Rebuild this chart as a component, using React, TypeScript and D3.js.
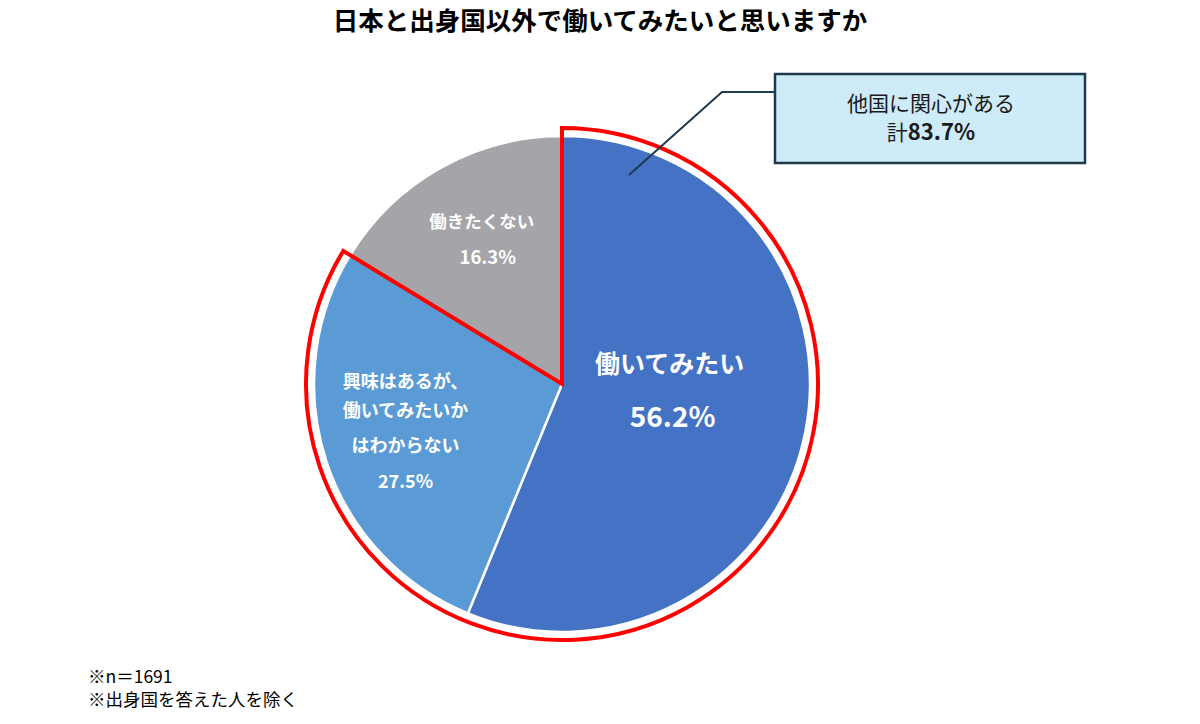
import React from "react";
import * as d3 from "d3";

const categories = ["働いてみたい", "興味はあるが、働いてみたいかはわからない", "働きたくない"];
const values = [56.2, 27.5, 16.3];
const colors = ["#4472C4", "#5B9BD5", "#A5A4A8"];
const title = "日本と出身国以外で働いてみたいと思いますか";
const calloutLines = ["他国に関心がある", "計", "83.7%"];
const notes = ["※n＝1691", "※出身国を答えた人を除く"];

const FONT = "'Noto Sans CJK JP', 'Noto Sans', sans-serif";

export default function App() {
  const W = 1200, H = 724;
  const cx = 562, cy = 384, r = 248;
  const pie = d3.pie<number>().sort(null).value((d) => d);
  const arcs = pie(values);
  const arcGen = d3.arc<d3.PieArcDatum<number>>().innerRadius(0).outerRadius(r);

  const interestEnd = arcs[1].endAngle;
  const R2 = r + 8;
  const redArc = d3.arc()({ innerRadius: 0, outerRadius: R2, startAngle: 0, endAngle: interestEnd } as any) as string;

  const labelPos = (i: number, k: number) => {
    const a = arcs[i];
    return d3.arc<d3.PieArcDatum<number>>().innerRadius(r * k).outerRadius(r * k).centroid(a);
  };
  const p0 = labelPos(0, 0.5);
  const p1 = labelPos(1, 0.66);
  const p2 = labelPos(2, 0.66);

  const lbl = { fill: "#fff", fontWeight: 700, fontFamily: FONT, textAnchor: "middle" as const };

  return (
    <svg width={W} height={H} style={{ position: "absolute", left: 0, top: 0, background: "#fff" }}>
      <text x={600} y={30} textAnchor="middle" fontFamily={FONT} fontWeight={700} fontSize={25.5} fill="#000">{title}</text>
      <g transform={`translate(${cx},${cy})`}>
        {arcs.map((a, i) => (
          <path key={i} d={arcGen(a) as string} fill={colors[i]} stroke="#fff" strokeWidth={2.5} />
        ))}
        <path d={redArc} fill="none" stroke="#FF0000" strokeWidth={4} strokeLinejoin="miter" />
        <text x={p0[0] - 14} y={p0[1] - 35} {...lbl} fontSize={25}>{categories[0]}</text>
        <text x={p0[0] - 11} y={p0[1] + 19} {...lbl} fontSize={28}>{values[0].toFixed(1)}%</text>
        <g fontSize={18}>
          <text x={p1[0] - 1} y={p1[1] - 47} {...lbl}>興味はあるが、</text>
          <text x={p1[0] - 1} y={p1[1] - 18} {...lbl}>働いてみたいか</text>
          <text x={p1[0] - 1} y={p1[1] + 17} {...lbl}>はわからない</text>
          <text x={p1[0] - 1} y={p1[1] + 53} {...lbl}>{values[1].toFixed(1)}%</text>
        </g>
        <g fontSize={17.5}>
          <text x={p2[0] + 0} y={p2[1] - 13} {...lbl}>{categories[2]}</text>
          <text x={p2[0] + 6} y={p2[1] + 23} {...lbl} fontSize={18.5}>{values[2].toFixed(1)}%</text>
        </g>
      </g>
      <polyline points="629,175 722,92 775,92" fill="none" stroke="#1F3A4D" strokeWidth={2} />
      <rect x={775} y={74} width={310} height={89} fill="#CDEBF9" stroke="#1F3A4D" strokeWidth={2.5} />
      <text x={931} y={111} textAnchor="middle" fontFamily={FONT} fontSize={21} fill="#1a1a1a">{calloutLines[0]}</text>
      <text x={931} y={140} textAnchor="middle" fontFamily={FONT} fontSize={21} fill="#1a1a1a">
        {calloutLines[1]}<tspan fontWeight={700} fontSize={22}>{calloutLines[2]}</tspan>
      </text>
      {notes.map((n, i) => (
        <text key={i} x={88} y={683 + i * 23} fontFamily={FONT} fontSize={17.5} fill="#000">{n}</text>
      ))}
    </svg>
  );
}
